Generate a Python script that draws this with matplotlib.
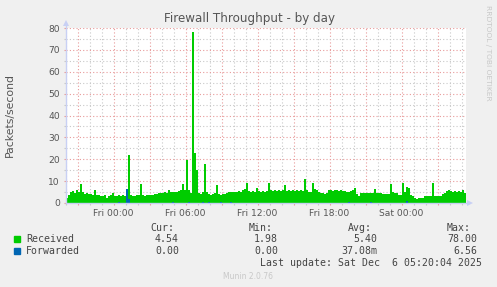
import numpy as np
import matplotlib
matplotlib.use("Agg")
import matplotlib.pyplot as plt
import matplotlib.dates as mdates
import pandas as pd
from matplotlib.patches import Rectangle
from matplotlib.lines import Line2D

# packets/second, 10 minute samples from Thu 20:00 to Sat 05:20, one row per hour
received = [
    2.5, 3.5, 5.0, 5.5, 4.5, 6.0,    # Thu 20
    5.0, 8.5, 5.0, 4.0, 4.5, 4.0,    # Thu 21
    4.0, 3.5, 6.0, 3.5, 3.5, 3.0,    # Thu 22
    3.0, 3.5, 2.5, 3.0, 3.5, 4.5,    # Thu 23
    3.0, 3.0, 3.5, 3.0, 3.5, 3.0,    # Fri 00
    4.0, 22.0, 3.5, 3.0, 3.0, 3.5,   # Fri 01
    3.5, 8.5, 3.5, 3.0, 3.5, 3.5,    # Fri 02
    3.5, 3.5, 4.0, 4.0, 4.5, 4.5,    # Fri 03
    4.5, 5.0, 4.5, 6.0, 5.0, 5.0,    # Fri 04
    5.0, 5.0, 5.5, 6.0, 8.5, 6.0,    # Fri 05
    19.5, 6.0, 4.5, 78.0, 23.0, 15.0,  # Fri 06
    4.5, 4.0, 5.0, 18.0, 5.0, 4.0,   # Fri 07
    3.5, 4.0, 4.5, 8.0, 4.0, 3.5,    # Fri 08
    4.0, 4.0, 4.5, 5.0, 5.0, 5.0,    # Fri 09
    5.0, 5.0, 5.5, 5.0, 6.0, 6.5,    # Fri 10
    9.0, 5.5, 5.0, 5.5, 5.0, 7.0,    # Fri 11
    5.5, 5.0, 5.5, 5.0, 5.5, 9.0,    # Fri 12
    6.0, 5.5, 6.0, 5.5, 6.0, 5.5,    # Fri 13
    6.0, 8.0, 5.5, 6.0, 5.5, 6.0,    # Fri 14
    5.5, 6.0, 5.5, 6.0, 5.5, 11.0,   # Fri 15
    6.0, 5.0, 5.0, 9.0, 6.5, 6.0,    # Fri 16
    5.0, 4.5, 4.5, 4.0, 4.5, 6.0,    # Fri 17
    6.0, 5.5, 6.0, 6.0, 5.5, 6.0,    # Fri 18
    5.5, 5.5, 5.0, 5.0, 5.5, 6.0,    # Fri 19
    7.0, 4.0, 3.0, 4.5, 4.5, 4.5,    # Fri 20
    4.5, 4.5, 4.5, 4.5, 6.5, 4.5,    # Fri 21
    4.5, 4.5, 4.0, 4.0, 4.0, 4.0,    # Fri 22
    8.5, 5.0, 4.5, 4.5, 3.5, 3.5,    # Fri 23
    9.0, 5.0, 7.5, 7.0, 3.5, 3.0,    # Sat 00
    2.5, 1.98, 2.5, 2.5, 2.5, 3.0,   # Sat 01
    3.0, 3.0, 3.0, 9.0, 3.0, 3.0,    # Sat 02
    3.0, 3.0, 4.0, 4.5, 5.5, 6.0,    # Sat 03
    5.5, 5.0, 5.5, 5.0, 5.5, 5.0,    # Sat 04
    6.0, 4.54,                       # Sat 05
]

# forwarded is zero except for a few samples
fwd_index = [26, 30, 31, 53, 61, 68, 71, 77, 82, 141, 152, 170]
fwd_value = [0.5, 6.56, 2.0, 0.5, 0.5, 0.5, 0.5, 0.5, 0.5, 0.5, 0.5, 1.0]
forwarded = [0.0] * len(received)
for i, v in zip(fwd_index, fwd_value):
    forwarded[i] = v

series = ["Received", "Forwarded"]
colors = ["#00cc00", "#0066b3"]
headers = ["Cur:", "Min:", "Avg:", "Max:"]
stats = [["4.54", "1.98", "5.40", "78.00"],
         ["0.00", "0.00", "37.08m", "6.56"]]
last_update = "Last update: Sat Dec  6 05:20:04 2025"

W, H = 497, 287
L, R, T, B = 65.5, 465.5, 28, 203
fig = plt.figure(figsize=(W / 100, H / 100), dpi=100, facecolor="#f0f0f0")
ax = fig.add_axes([L / W, 1 - B / H, (R - L) / W, (B - T) / H])
ax.set_facecolor("white")

t = pd.date_range("2025-12-04 20:00", periods=len(received) + 1, freq="10min")
ax.fill_between(t, received + [received[-1]], step="post", color=colors[0], lw=0, zorder=2)
ax.fill_between(t, forwarded + [forwarded[-1]], step="post", color=colors[1], lw=0, zorder=3)

ax.set_xlim(t[0], t[-1])
ax.set_ylim(0, 80)

ax.xaxis.set_major_locator(mdates.HourLocator(byhour=range(0, 24, 3)))
ax.xaxis.set_minor_locator(mdates.HourLocator())
ax.xaxis.set_major_formatter(plt.FuncFormatter(
    lambda x, p: mdates.num2date(x).strftime("%a %H:%M") if mdates.num2date(x).hour % 6 == 0 else ""))
ax.set_yticks(np.arange(0, 81, 10))
ax.set_yticks(np.arange(5, 80, 10), minor=True)

dots = (0, (1, 2))
ax.grid(which="major", color="#e89a9a", linestyle=dots, lw=0.8, zorder=1)
ax.grid(which="minor", color="#c8c8c8", linestyle=dots, lw=0.8, zorder=1)
ax.set_axisbelow(True)
ax.tick_params(which="major", length=1.5, width=0.8, color="#e89a9a", labelsize=6.6,
               labelcolor="#555555", pad=2.6)
ax.tick_params(which="minor", length=1.5, width=0.8, color="#c8c8c8")
for s in ax.spines.values():
    s.set_visible(False)

# axis lines with arrows, drawn in pixel space
axc = "#c8d0f4"
fig.add_artist(Line2D([L / W, 469 / W], [1 - B / H, 1 - B / H], color=axc, lw=1))
fig.add_artist(Line2D([L / W, L / W], [1 - B / H, 1 - 23 / H], color=axc, lw=1))
fig.add_artist(Line2D([470 / W], [1 - B / H], marker=">", ms=5, color=axc, mew=0))
fig.add_artist(Line2D([L / W], [1 - 23 / H], marker="^", ms=5, color=axc, mew=0))

fig.text(249.5 / W, 1 - 18.5 / H, "Firewall Throughput - by day", ha="center", va="center",
         fontsize=8.6, color="#555555")
fig.text(10 / W, 1 - 115 / H, "Packets/second", rotation=90, ha="center", va="center",
         fontsize=7.8, color="#555555")
fig.text(488 / W, 1 - 5 / H, "RRDTOOL / TOBI OETIKER", rotation=270, ha="center", va="top",
         fontsize=5.4, color="#c8c8c8")

mono = dict(family="DejaVu Sans Mono", fontsize=7.1, color="#444444", va="center")
head_x = [150, 248.3, 348.3, 446.7]
val_right = [179, 278, 377.5, 477]
for hx, h in zip(head_x, headers):
    fig.text(hx / W, 1 - 227.7 / H, h, ha="left", **mono)
rows_y = [239.3, 251.3]
for name, c, row, ry in zip(series, colors, stats, rows_y):
    fig.add_artist(Rectangle((13.7 / W, 1 - (ry + 3) / H), 6 / W, 6 / H, color=c,
                             transform=fig.transFigure))
    fig.text(26 / W, 1 - ry / H, name, ha="left", **mono)
    for vx, v in zip(val_right, row):
        fig.text(vx / W, 1 - ry / H, v, ha="right", **mono)
fig.text(482 / W, 1 - 263.5 / H, last_update, ha="right", **mono)
fig.text(248 / W, 1 - 276.7 / H, "Munin 2.0.76", ha="center", va="center",
         fontsize=5.5, color="#c8c8c8")

fig.savefig("out.png", dpi=100, facecolor=fig.get_facecolor())
